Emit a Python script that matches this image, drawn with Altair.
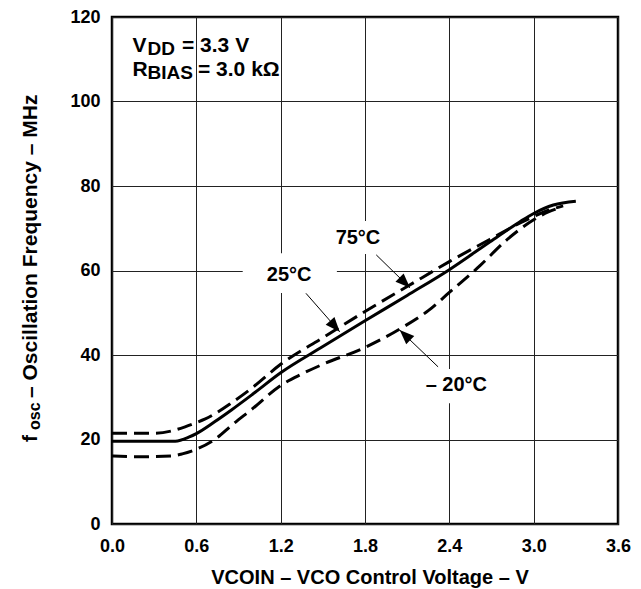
import altair as alt
import pandas as pd

FONT = "Liberation Sans"

# ---- data ----
v25 = [0.0, 0.45, 0.55, 0.6, 0.73, 0.85, 1.0, 1.2, 1.5, 1.8, 2.1, 2.4, 2.69, 2.9, 3.0, 3.14, 3.3]
f25 = [19.6, 19.6, 20.6, 21.4, 24.2, 27.0, 30.7, 35.8, 42.0, 48.1, 54.1, 60.2, 66.8, 71.5, 73.5, 75.5, 76.4]
v75 = [0.0, 0.3, 0.42, 0.52, 0.6, 0.66, 0.86, 1.0, 1.2, 1.5, 1.8, 2.1, 2.4, 2.69, 2.9, 3.0, 3.1, 3.21]
f75 = [21.5, 21.5, 22.0, 23.0, 24.0, 24.8, 28.9, 32.3, 37.8, 44.1, 50.3, 56.2, 62.1, 67.4, 71.2, 72.8, 74.2, 75.3]
vm20 = [0.0, 0.2, 0.42, 0.5, 0.6, 0.73, 0.86, 1.0, 1.2, 1.35, 1.5, 1.8, 2.05, 2.25, 2.4, 2.62, 2.8, 3.0, 3.1, 3.2]
fm20 = [16.1, 15.9, 16.1, 16.6, 17.7, 20.0, 23.6, 27.3, 32.8, 35.5, 37.8, 41.8, 46.2, 50.5, 54.8, 61.2, 67.0, 72.0, 73.8, 75.0]

x_ticks = [0.0, 0.6, 1.2, 1.8, 2.4, 3.0, 3.6]
y_ticks = [0, 20, 40, 60, 80, 100, 120]

label_text = ["25°C", "75°C", "– 20°C"]
label_v = [1.26, 1.75, 2.45]
label_f = [58.9, 67.8, 33.0]

box_v1 = [0.93, 1.51, 2.15]
box_v2 = [1.60, 1.99, 2.74]
box_f1 = [54.7, 63.9, 28.6]
box_f2 = [64.1, 71.7, 36.7]

arrow_v1 = [1.38, 1.88, 2.32]
arrow_f1 = [54.6, 63.7, 37.2]
arrow_v2 = [1.62, 2.12, 2.047]
arrow_f2 = [45.5, 55.9, 45.9]
arrow_ang = [138.6, 134.3, 313.8]

# ---- scales / encodings ----
X = alt.X("v:Q", scale=alt.Scale(domain=[0, 3.6], nice=False, zero=False),
          axis=alt.Axis(values=x_ticks, format=".1f", labelPadding=13, labelFlush=False,
                        labelOverlap=False, title=None))
Y = alt.Y("f:Q", scale=alt.Scale(domain=[0, 120], nice=False),
          axis=alt.Axis(values=y_ticks, labelPadding=12, labelBaseline="middle", title=None))


def curve(vs, fs, dash):
    df = pd.DataFrame({"v": vs, "f": fs, "i": list(range(len(vs)))})
    kw = dict(color="black", strokeWidth=3, interpolate="monotone", strokeCap="butt")
    if dash:
        kw["strokeDash"] = [15, 7]
    return alt.Chart(df).mark_line(**kw).encode(x=X, y=Y, order="i:Q")


boxes = alt.Chart(pd.DataFrame({"v": box_v1, "v2": box_v2, "f": box_f1, "f2": box_f2})).mark_rect(
    color="white", opacity=1
).encode(x=X, x2="v2:Q", y=Y, y2="f2:Q")

rules = alt.Chart(pd.DataFrame({"v": arrow_v1, "f": arrow_f1, "v2": arrow_v2, "f2": arrow_f2})).mark_rule(
    color="black", strokeWidth=1
).encode(x=X, y=Y, x2="v2:Q", y2="f2:Q")

heads = alt.Chart(pd.DataFrame({"v": arrow_v2, "f": arrow_f2, "a": arrow_ang})).mark_point(
    shape="M0,0L-0.4,1L0.4,1Z", filled=True, size=850, color="black", opacity=1, strokeWidth=0
).encode(x=X, y=Y, angle=alt.Angle("a:Q", scale=None))

labels = alt.Chart(pd.DataFrame({"v": label_v, "f": label_f, "t": label_text})).mark_text(
    font=FONT, fontSize=20, fontWeight="bold", color="black", align="center", baseline="middle"
).encode(x=X, y=Y, text="t:N")


def ptext(txt, px, py, size, align="left", angle=0, baseline="alphabetic"):
    kw = dict(font=FONT, fontSize=size, fontWeight="bold", color="black", align=align, baseline=baseline)
    if angle:
        kw["angle"] = angle
    return alt.Chart(pd.DataFrame({"t": [txt]})).mark_text(**kw).encode(
        x=alt.value(px), y=alt.value(py), text="t:N")


texts = [
    ptext("V", 20.5, 34.7, 21),
    ptext("DD", 35.5, 38, 19),
    ptext("= 3.3 V", 70, 34.7, 21),
    ptext("R", 20.5, 58.7, 21),
    ptext("BIAS", 35.5, 62.3, 19),
    ptext("= 3.0 kΩ", 86, 58.7, 21),
    # y-axis title (rotated)
    ptext("f", -75.3, 425, 21, angle=270),
    ptext("osc", -72, 413, 16, angle=270),
    ptext("– Oscillation Frequency – MHz", -75.3, 381, 21, angle=270),
    # x-axis title
    ptext("VCOIN – VCO Control Voltage – V", 258, 566.5, 20, align="center"),
]

chart = alt.layer(
    boxes,
    curve(vm20, fm20, True),
    curve(v75, f75, True),
    curve(v25, f25, False),
    rules,
    heads,
    labels,
    *texts,
).properties(
    width=506,
    height=507,
    autosize=alt.AutoSizeParams(type="none"),
    padding={"left": 112, "top": 17, "right": 23, "bottom": 65},
    background="white",
).configure_axis(
    labelFont=FONT, labelFontSize=18, labelFontWeight="bold", labelColor="black",
    grid=True, gridColor="#222222", gridWidth=1, gridOpacity=1, ticks=False, domain=False,
).configure_view(stroke="black", strokeWidth=2.5)

chart.save("out.html", embed_options={"renderer": "svg", "actions": False})
